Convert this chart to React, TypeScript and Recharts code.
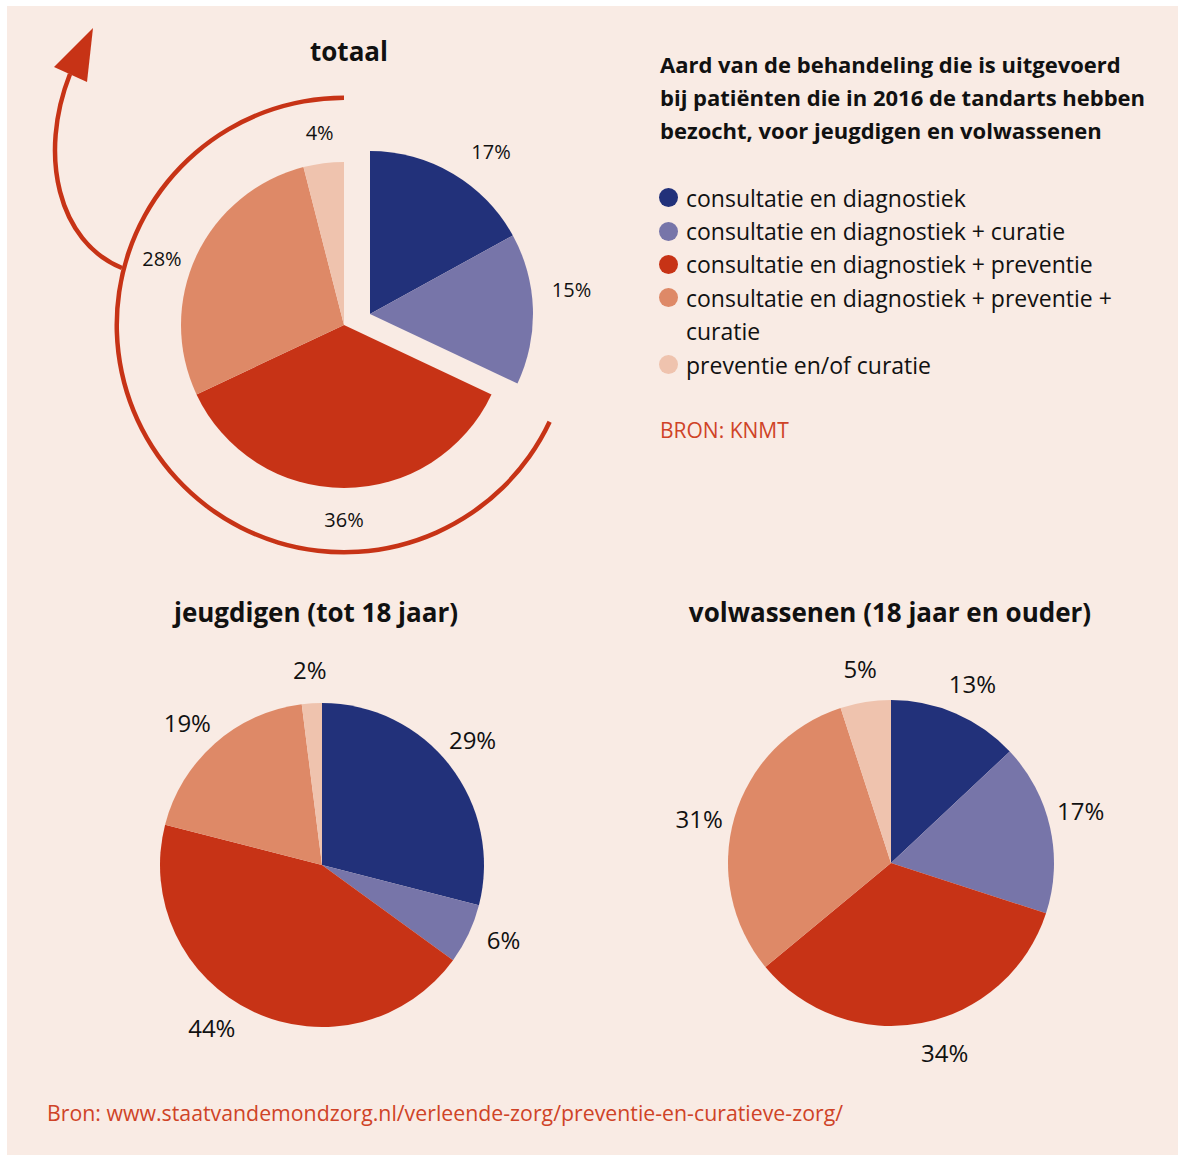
import { Cell, Pie, PieChart } from "recharts";

const categories = [
  "consultatie en diagnostiek",
  "consultatie en diagnostiek + curatie",
  "consultatie en diagnostiek + preventie",
  "consultatie en diagnostiek + preventie + curatie",
  "preventie en/of curatie",
];
const colors = ["#22317a", "#7775a9", "#c73316", "#de8967", "#efc3ae"];

const totaalValues = [17, 15, 36, 28, 4];
const jeugdValues = [29, 6, 44, 19, 2];
const volwassenValues = [13, 17, 34, 31, 5];
// the first two slices of "totaal" are pulled out of the pie
const explodedCount = 2;

// small angle nudges (degrees) so labels sit where the original put them
const totaalNudge = [-6, 5, 0, 5, 0];
const jeugdNudge = [2, 3, -9, 2, 0];
const volwassenNudge = [-1, 3, 5, 3, 0];

const RED = "#c73316";
const BG = "#f9ebe4";
const FONT = "'Open Sans', sans-serif";
const RADIAN = Math.PI / 180;

const toRows = (values: number[], nudges: number[]) =>
  values.map((value, i) => ({ name: categories[i], value, color: colors[i], nudge: nudges[i] }));

const total = totaalValues.reduce((a, b) => a + b, 0);
const explodedSum = totaalValues.slice(0, explodedCount).reduce((a, b) => a + b, 0);
const splitAngle = 90 - (360 * explodedSum) / total;

const makeLabel = (offset: number, size: number) => (props: any) => {
  const { cx, cy, midAngle, outerRadius, value, payload } = props;
  const nudge = payload?.nudge ?? props.nudge ?? 0;
  const angle = midAngle + nudge;
  const r = outerRadius + offset;
  const x = cx + r * Math.cos(-angle * RADIAN);
  const y = cy + r * Math.sin(-angle * RADIAN);
  return (
    <text
      x={x}
      y={y}
      textAnchor="middle"
      dominantBaseline="central"
      fill="#111"
      fontSize={size}
      fontFamily={FONT}
    >
      {`${value}%`}
    </text>
  );
};

function Title({ text, x, y, size }: { text: string; x: number; y: number; size: number }) {
  return (
    <div
      style={{
        position: "absolute",
        left: x - 300,
        top: y - 20,
        width: 600,
        height: 40,
        lineHeight: "40px",
        textAlign: "center",
        fontWeight: 700,
        fontSize: size,
        color: "#111",
      }}
    >
      {text}
    </div>
  );
}

export default function App() {
  const totaalRows = toRows(totaalValues, totaalNudge);
  const exploded = totaalRows.slice(0, explodedCount);
  const rest = totaalRows.slice(explodedCount);
  const jeugdRows = toRows(jeugdValues, jeugdNudge);
  const volwassenRows = toRows(volwassenValues, volwassenNudge);
  const legendLines = [
    { color: colors[0], text: categories[0] },
    { color: colors[1], text: categories[1] },
    { color: colors[2], text: categories[2] },
    { color: colors[3], text: "consultatie en diagnostiek + preventie +" },
    { color: null, text: "curatie" },
    { color: colors[4], text: categories[4] },
  ];

  return (
    <div
      style={{
        position: "relative",
        width: 1180,
        height: 1158,
        background: "#fff",
        fontFamily: FONT,
        overflow: "hidden",
      }}
    >
      <style>{"body{margin:0}"}</style>
      <div
        style={{ position: "absolute", left: 7, top: 6, width: 1171, height: 1149, background: BG }}
      />
      <div style={{ position: "absolute", left: 0, top: 0 }}>
        <PieChart width={1180} height={1158} margin={{ top: 0, right: 0, bottom: 0, left: 0 }}>
          {/* ring around the non-exploded part */}
          <Pie
            data={[{ name: "ring", value: 1 }]}
            dataKey="value"
            cx={344}
            cy={325}
            innerRadius={225}
            outerRadius={229.5}
            startAngle={90}
            endAngle={360 + splitAngle}
            stroke="none"
            fill={RED}
            isAnimationActive={false}
          />
          <Pie
            data={rest}
            dataKey="value"
            cx={344}
            cy={325}
            outerRadius={163}
            startAngle={splitAngle}
            endAngle={-270}
            stroke="none"
            label={makeLabel(31, 20)}
            labelLine={false}
            isAnimationActive={false}
          >
            {rest.map((d) => (
              <Cell key={d.name} fill={d.color} />
            ))}
          </Pie>
          <Pie
            data={exploded}
            dataKey="value"
            cx={370}
            cy={314}
            outerRadius={163}
            startAngle={90}
            endAngle={splitAngle}
            stroke="none"
            label={makeLabel(40, 20)}
            labelLine={false}
            isAnimationActive={false}
          >
            {exploded.map((d) => (
              <Cell key={d.name} fill={d.color} />
            ))}
          </Pie>
          <Pie
            data={jeugdRows}
            dataKey="value"
            cx={322}
            cy={865}
            outerRadius={162}
            startAngle={90}
            endAngle={-270}
            stroke="none"
            label={makeLabel(34, 24)}
            labelLine={false}
            isAnimationActive={false}
          >
            {jeugdRows.map((d) => (
              <Cell key={d.name} fill={d.color} />
            ))}
          </Pie>
          <Pie
            data={volwassenRows}
            dataKey="value"
            cx={891}
            cy={863}
            outerRadius={163}
            startAngle={90}
            endAngle={-270}
            stroke="none"
            label={makeLabel(34, 24)}
            labelLine={false}
            isAnimationActive={false}
          >
            {volwassenRows.map((d) => (
              <Cell key={d.name} fill={d.color} />
            ))}
          </Pie>
        </PieChart>
      </div>

      {/* arrow leaving the ring */}
      <svg
        width={1180}
        height={600}
        style={{ position: "absolute", left: 0, top: 0, pointerEvents: "none" }}
      >
        <path d="M122,268 C58,242 38,155 70,74" fill="none" stroke={RED} strokeWidth={4.5} />
        <polygon points="93,28 54,67 87,82" fill={RED} />
      </svg>

      <Title text="totaal" x={349} y={51} size={26} />
      <Title text="jeugdigen (tot 18 jaar)" x={316} y={612} size={26} />
      <Title text="volwassenen (18 jaar en ouder)" x={890} y={612} size={26} />

      <div
        style={{
          position: "absolute",
          left: 660,
          top: 48,
          fontWeight: 700,
          fontSize: 22,
          lineHeight: "33px",
          color: "#111",
          whiteSpace: "nowrap",
        }}
      >
        Aard van de behandeling die is uitgevoerd
        <br />
        bij patiënten die in 2016 de tandarts hebben
        <br />
        bezocht, voor jeugdigen en volwassenen
      </div>

      <div style={{ position: "absolute", left: 659, top: 181 }}>
        {legendLines.map((line, i) => (
          <div
            key={i}
            style={{
              display: "flex",
              alignItems: "center",
              height: 33.4,
              fontSize: 23,
              color: "#111",
              whiteSpace: "nowrap",
            }}
          >
            <span
              style={{
                width: 19,
                height: 19,
                borderRadius: "50%",
                background: line.color ?? "transparent",
                marginRight: 8,
                flexShrink: 0,
              }}
            />
            <span>{line.text}</span>
          </div>
        ))}
      </div>

      <div
        style={{
          position: "absolute",
          left: 660,
          top: 415,
          fontSize: 21,
          lineHeight: "30px",
          color: "#cf4327",
        }}
      >
        BRON: KNMT
      </div>

      <div
        style={{
          position: "absolute",
          left: 47,
          top: 1098,
          fontSize: 21.3,
          lineHeight: "30px",
          color: "#cf4327",
          whiteSpace: "nowrap",
        }}
      >
        Bron: www.staatvandemondzorg.nl/verleende-zorg/preventie-en-curatieve-zorg/
      </div>
    </div>
  );
}
